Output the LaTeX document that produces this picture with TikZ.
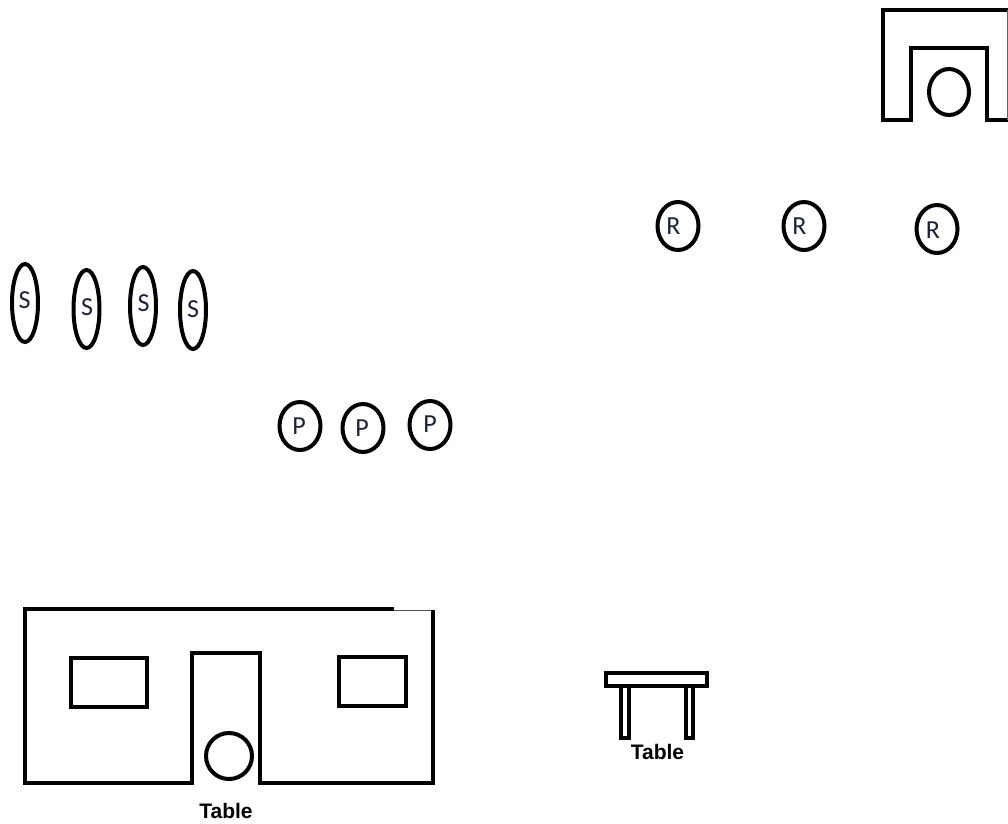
\documentclass[tikz,border=0pt]{standalone}
\usepackage{fontspec}
\setmainfont{Carlito}
\newfontfamily\tablefont{Liberation Sans}
\usetikzlibrary{shapes.geometric}
\definecolor{lettertone}{RGB}{30,34,52}
\tikzset{
  x=1pt,y=-1pt,
  thick line/.style={draw=black,line width=4.4pt,fill=none,line join=miter},
  letter/.style={inner sep=0pt,font=\fontsize{26}{26}\selectfont,text=lettertone},
  person/.style={ellipse,draw=black,line width=4pt,minimum width=41pt,minimum height=48pt,inner sep=0pt},
  slim/.style={person,minimum width=26pt,minimum height=78pt},
  hollow/.style={person},
  caption/.style={inner sep=0pt,font=\tablefont\bfseries\fontsize{21}{23}\selectfont,text=black},
}
\begin{document}
\begin{tikzpicture}
\useasboundingbox (0,0) rectangle (1008,823);
% top right booth
\draw[thick line] (1008,10) -- (883,10) -- (883,120) -- (911,120) -- (911,48) -- (987,48) -- (987,120) -- (1008,120);
\draw[black!60,line width=1pt] (1007,10) -- (1007,120);
\node[hollow,minimum width=40pt,minimum height=46pt] (topseat) at (949,92) {};
% R
\node[person,label={[letter,shift={(-4.5,0)}]center:R}] (r1) at (678,226) {};
\node[person,label={[letter,shift={(-4.5,0)}]center:R}] (r2) at (804,226) {};
\node[person,label={[letter,shift={(-4,1)}]center:R}] (r3) at (937,229) {};
% S
\node[slim,label={[letter,shift={(-0.5,-3)}]center:S}] (s1) at (25,303) {};
\node[slim,label={[letter,shift={(0.5,-2)}]center:S}] (s2) at (86.5,309) {};
\node[slim,label={[letter,shift={(0.5,-3)}]center:S}] (s3) at (143,306) {};
\node[slim,label={[letter,shift={(0,-1)}]center:S}] (s4) at (193,310) {};
% P
\node[person,label={[letter,shift={(-1,0)}]center:P}] (p1) at (300,426) {};
\node[person,label={[letter,shift={(-1,0)}]center:P}] (p2) at (363,428) {};
\node[person,label={[letter,shift={(0,-1)}]center:P}] (p3) at (430,425) {};
% large table
\draw[black!70,line width=1pt] (394,610) -- (433,610);
\draw[thick line] (394,609) -- (25,609) -- (25,783) -- (192,783) -- (192,653) -- (260,653) -- (260,783) -- (433,783) -- (433,610);
\draw[thick line] (71,658) rectangle (147,707);
\draw[thick line] (339,657) rectangle (406,706);
\node[hollow,minimum width=46pt,minimum height=46pt] (bigseat) at (229,756) {};
\node[caption] (bigcap) at (226,811) {Table};
% small table
\draw[thick line] (606,673) rectangle (707,686);
\draw[thick line,line width=3.8pt] (621,686) -- (621,738) -- (629,738) -- (629,686);
\draw[thick line,line width=3.8pt] (686,686) -- (686,738) -- (693,738) -- (693,686);
\node[caption] (smallcap) at (657.5,752) {Table};
\end{tikzpicture}
\end{document}
